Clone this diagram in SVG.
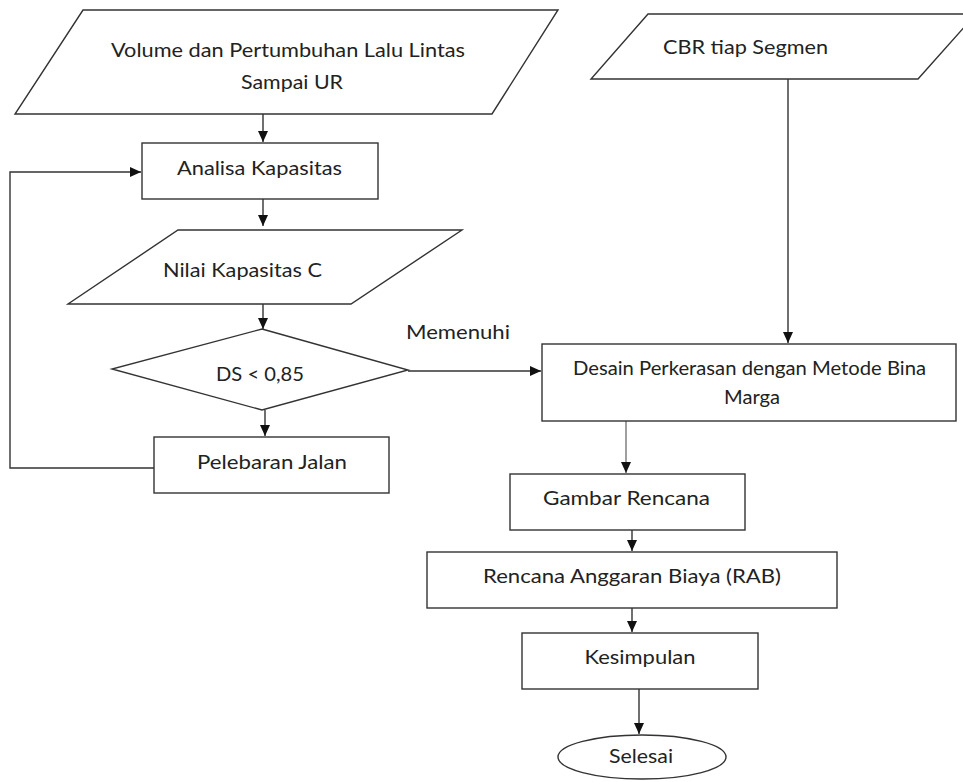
<svg xmlns="http://www.w3.org/2000/svg" width="963" height="782" viewBox="0 0 963 782">
<style>
.shape{fill:#fff;stroke:#333;stroke-width:1.4}
.line{fill:none;stroke:#333;stroke-width:1.4}
.gray{stroke:#777}
text{font-family:Lato,"Open Sans","Liberation Sans",sans-serif;font-size:19px;fill:#222;text-anchor:middle}
.sm{font-size:18.5px}
</style>
<defs>
<marker id="ah" markerUnits="userSpaceOnUse" markerWidth="12" markerHeight="12" refX="11" refY="6" orient="auto">
<path d="M0,1 L11,6 L0,11 Z" fill="#111"/>
</marker>
</defs>
<rect width="963" height="782" fill="#fff"/>
<g id="connectors">
<path class="line" d="M263,114 V142" marker-end="url(#ah)"/>
<path class="line" d="M154,468 H10 V172 H141" marker-end="url(#ah)"/>
<path class="line" d="M263,199 V226" marker-end="url(#ah)"/>
<path class="line" d="M263,304 V329" marker-end="url(#ah)"/>
<path class="line" d="M265,410 V436" marker-end="url(#ah)"/>
<path class="line" d="M408,371 H541" marker-end="url(#ah)"/>
<path class="line" d="M788,79 V343" marker-end="url(#ah)"/>
<path class="line gray" d="M626,421 V473" marker-end="url(#ah)"/>
<path class="line" d="M632,530 V551" marker-end="url(#ah)"/>
<path class="line" d="M632,608 V632" marker-end="url(#ah)"/>
<path class="line" d="M639,689 V734" marker-end="url(#ah)"/>
<text x="458" y="339" textLength="104" lengthAdjust="spacingAndGlyphs">Memenuhi</text>
</g>
<g id="volume">
<polygon class="shape" points="83,10 558,10 492,114 15,114"/>
<text x="288" y="57" textLength="354" lengthAdjust="spacingAndGlyphs">Volume dan Pertumbuhan Lalu Lintas</text>
<text x="292" y="89" textLength="102" lengthAdjust="spacingAndGlyphs">Sampai UR</text>
</g>
<g id="cbr">
<polygon class="shape" points="648,14 976,14 918,79 591,79"/>
<text x="745.5" y="54" textLength="165" lengthAdjust="spacingAndGlyphs">CBR tiap Segmen</text>
</g>
<g id="analisa">
<rect class="shape" x="142" y="143" width="236" height="56"/>
<text x="259.5" y="175" textLength="165" lengthAdjust="spacingAndGlyphs">Analisa Kapasitas</text>
</g>
<g id="nilai">
<polygon class="shape" points="178,230 462,230 351,304 68,304"/>
<text x="242.5" y="277" textLength="159" lengthAdjust="spacingAndGlyphs">Nilai Kapasitas C</text>
</g>
<g id="ds">
<polygon class="shape" points="262,329 408,370 262,410 112,369"/>
<text x="260" y="381" textLength="88" lengthAdjust="spacingAndGlyphs">DS &lt; 0,85</text>
</g>
<g id="pelebaran">
<rect class="shape" x="154" y="437" width="235" height="56"/>
<text x="272" y="469" textLength="150" lengthAdjust="spacingAndGlyphs">Pelebaran Jalan</text>
</g>
<g id="desain">
<rect class="shape" x="542" y="344" width="414" height="77"/>
<text class="sm" x="749.5" y="375" textLength="353" lengthAdjust="spacingAndGlyphs">Desain Perkerasan dengan Metode Bina</text>
<text class="sm" x="752" y="404" textLength="56" lengthAdjust="spacingAndGlyphs">Marga</text>
</g>
<g id="gambar">
<rect class="shape" x="510" y="474" width="235" height="56"/>
<text x="626.5" y="505" textLength="167" lengthAdjust="spacingAndGlyphs">Gambar Rencana</text>
</g>
<g id="rab">
<rect class="shape" x="427" y="552" width="410" height="56"/>
<text x="632" y="583" textLength="298" lengthAdjust="spacingAndGlyphs">Rencana Anggaran Biaya (RAB)</text>
</g>
<g id="kesimpulan">
<rect class="shape" x="522" y="633" width="236" height="56"/>
<text x="640" y="664" textLength="111" lengthAdjust="spacingAndGlyphs">Kesimpulan</text>
</g>
<g id="selesai">
<ellipse class="shape" cx="642" cy="757" rx="84" ry="22"/>
<text x="641" y="763" textLength="64" lengthAdjust="spacingAndGlyphs">Selesai</text>
</g>
</svg>
